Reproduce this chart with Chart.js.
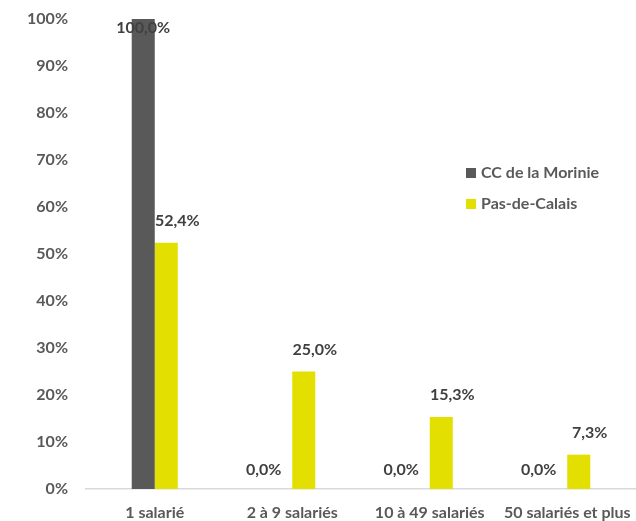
<!DOCTYPE html>
<html lang="fr">
<head>
<meta charset="UTF-8">
<title>Salariés</title>
<script src="https://cdn.jsdelivr.net/npm/chart.js"></script>
<style>
  body { margin: 0; background: #fff; }
  .wrap { position: relative; width: 636px; height: 521px; }
  .legende { position: absolute; left: 466px; top: 161px; font: bold 16px Lato, sans-serif; color: #595959; }
  .legende div { height: 31px; line-height: 21px; }
  .legende span { display: inline-block; width: 10px; height: 10px; margin-right: 5px; }
</style>
</head>
<body>
<div class="wrap">
  <canvas id="graphique" width="636" height="521"></canvas>
  <div class="legende" id="legende"></div>
</div>
<script>
const categories = ["1 salarié", "2 à 9 salariés", "10 à 49 salariés", "50 salariés et plus"];
const morinie = [100.0, 0.0, 0.0, 0.0];
const pasDeCalais = [52.4, 25.0, 15.3, 7.3];
const nomsSeries = ["CC de la Morinie", "Pas-de-Calais"];
const couleurs = ["#595959", "#e3df00"];

// etiquettes de valeur au-dessus des barres
const etiquettes = {
  id: "etiquettes",
  afterDatasetsDraw(chart) {
    const ctx = chart.ctx;
    const top = chart.chartArea.top;
    ctx.save();
    ctx.font = "bold 16px Lato, sans-serif";
    ctx.fillStyle = "#404040";
    ctx.textAlign = "center";
    ctx.textBaseline = "middle";
    chart.data.datasets.forEach((ds, i) => {
      chart.getDatasetMeta(i).data.forEach((bar, j) => {
        const v = ds.data[j];
        let dx = i === 1 ? 11 : (v === 0 ? -17 : 0);
        let y = Math.max(bar.y - (v === 0 ? 19 : 22), top + 9);
        ctx.fillText(v.toFixed(1).replace(".", ",") + "%", bar.x + dx, y);
      });
    });
    ctx.restore();
  }
};

new Chart(document.getElementById("graphique"), {
  type: "bar",
  data: {
    labels: categories,
    datasets: [
      { label: nomsSeries[0], data: morinie, backgroundColor: couleurs[0] },
      { label: nomsSeries[1], data: pasDeCalais, backgroundColor: couleurs[1] }
    ]
  },
  options: {
    responsive: false,
    animation: false,
    layout: { padding: { top: 19, right: 0, left: 0, bottom: 0 } },
    datasets: { bar: { barPercentage: 1, categoryPercentage: 0.335 } },
    plugins: { legend: { display: false }, tooltip: { enabled: false } },
    scales: {
      x: {
        grid: { display: false, drawTicks: false },
        border: { color: "#d9d9d9", width: 1.5 },
        ticks: { color: "#595959", font: { family: "Lato", size: 16, weight: "bold" }, padding: 14, maxRotation: 0 },
        afterFit(s) { s.height = 32; s.paddingLeft = 0; s.paddingRight = 0; }
      },
      y: {
        min: 0, max: 100,
        grid: { display: false, drawTicks: false },
        border: { display: false },
        ticks: { stepSize: 10, color: "#595959", font: { family: "Lato", size: 16, weight: "bold" }, padding: 18,
                 callback: v => v + "%" },
        afterFit(s) { s.width = 86; s.paddingTop = 0; s.paddingBottom = 0; }
      }
    }
  },
  plugins: [etiquettes]
});

document.getElementById("legende").innerHTML = nomsSeries.map((n, i) =>
  `<div><span style="background:${couleurs[i]}"></span>${n}</div>`).join("");
</script>
</body>
</html>
